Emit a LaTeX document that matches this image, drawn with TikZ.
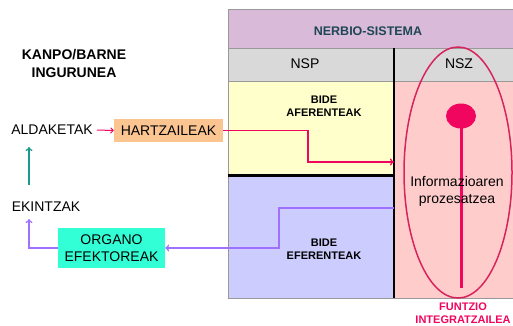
\documentclass[tikz,border=0pt]{standalone}
\usepackage{fontspec}
\setmainfont{Liberation Sans}
\usetikzlibrary{arrows.meta}
\definecolor{hdr}{HTML}{D9BBD9}
\definecolor{gry}{HTML}{D9D9D9}
\definecolor{yel}{HTML}{FFFFCC}
\definecolor{blu}{HTML}{CCCCFF}
\definecolor{pnk}{HTML}{FFCCCC}
\definecolor{brd}{HTML}{999999}
\definecolor{hot}{HTML}{F0065F}
\definecolor{crim}{HTML}{D8245C}
\definecolor{tealc}{HTML}{1A9A8A}
\definecolor{purp}{HTML}{A070FF}
\definecolor{peach}{HTML}{FBC592}
\definecolor{aqua}{HTML}{33FFD6}
\definecolor{hdrtxt}{HTML}{1F4656}
\tikzset{
  plain/.style={inner sep=0pt, font=\fontsize{14}{16}\selectfont, align=center},
  boldlbl/.style={inner sep=0pt, font=\fontsize{11}{13.5}\selectfont\bfseries, align=center},
  bigbold/.style={inner sep=0pt, font=\fontsize{14}{18}\selectfont\bfseries, align=center},
  conn/.style={line width=1.3pt, -{To[length=4pt,width=7pt]}},
}
\begin{document}
\begin{tikzpicture}[x=1pt,y=-1pt]
\useasboundingbox (0,0) rectangle (513,325);
% regions
\fill[hdr] (228,9) rectangle (513,48);
\fill[gry] (228,48) rectangle (513,81);
\fill[yel] (228,81) rectangle (394,175);
\fill[blu] (228,175) rectangle (394,298);
\fill[pnk] (394,81) rectangle (513,298);
\draw[brd, line width=1pt] (513,9) -- (228,9) -- (228,298) -- (513,298);
\draw[brd, line width=1pt] (228,48) -- (513,48);
\draw[brd, line width=1pt] (228,81) -- (513,81);
\draw[black, line width=3pt] (228,175) -- (394,175);
\draw[black, line width=1.3pt] (394,48) -- (394,298);
% header texts
\node[inner sep=0pt, font=\fontsize{12.5}{14}\selectfont\bfseries, text=hdrtxt] (ns) at (368,31) {NERBIO-SISTEMA};
\node[plain] (nsp) at (305,64) {NSP};
\node[plain] (nsz) at (459,64) {NSZ};
\node[boldlbl] (af) at (324,106) {BIDE\\AFERENTEAK};
\node[boldlbl] (ef) at (324,249) {BIDE\\EFERENTEAK};
% ellipse and integrator
\draw[crim, line width=1.5pt] (458,172.5) ellipse [x radius=54, y radius=125.5];
\fill[hot] (461,116) ellipse [x radius=15, y radius=12.5];
\draw[hot, line width=3pt] (461,116) -- (461,288);
\node[plain, font=\fontsize{14}{17}\selectfont] (info) at (457,191) {Informazioaren\\prozesatzea};
\node[inner sep=0pt, align=center, font=\fontsize{11}{13}\selectfont\bfseries, text=hot] (fi) at (463,313) {FUNTZIO\\INTEGRATZAILEA};
% left side
\node[bigbold] (kb) at (74,63) {KANPO/BARNE\\INGURUNEA};
\node[plain] (ald) at (52,130) {ALDAKETAK};
\node[plain, fill=peach, minimum width=109pt, minimum height=23pt] (hz) at (168.5,130.5) {HARTZAILEAK};
\node[plain] (ek) at (46,207) {EKINTZAK};
\node[plain, fill=aqua, minimum width=107pt, minimum height=40pt, font=\fontsize{14}{17}\selectfont] (oe) at (111.5,248) {ORGANO\\EFEKTOREAK};
\coordinate (afin) at (394,162);
\coordinate (efout) at (394,208);
\coordinate (ektop) at (29,185);
\coordinate (aldbot) at (29,147);
\coordinate (ekbot) at (29,219);
% connectors
\draw[hot, line width=1pt, -{To[length=3.5pt,width=6pt]}] (ald.east) ++(4,0) -- (hz.west);
\draw[hot, conn] (hz.east) -- (308,130.5) -- (308,162) -- (afin);
\draw[purp, conn] (efout) -- (279,208) -- (279,248) -- (oe.east);
\draw[purp, conn] (oe.west) -- (29,248) -- (ekbot);
\draw[tealc, conn] (ektop) -- (aldbot);
\end{tikzpicture}
\end{document}
